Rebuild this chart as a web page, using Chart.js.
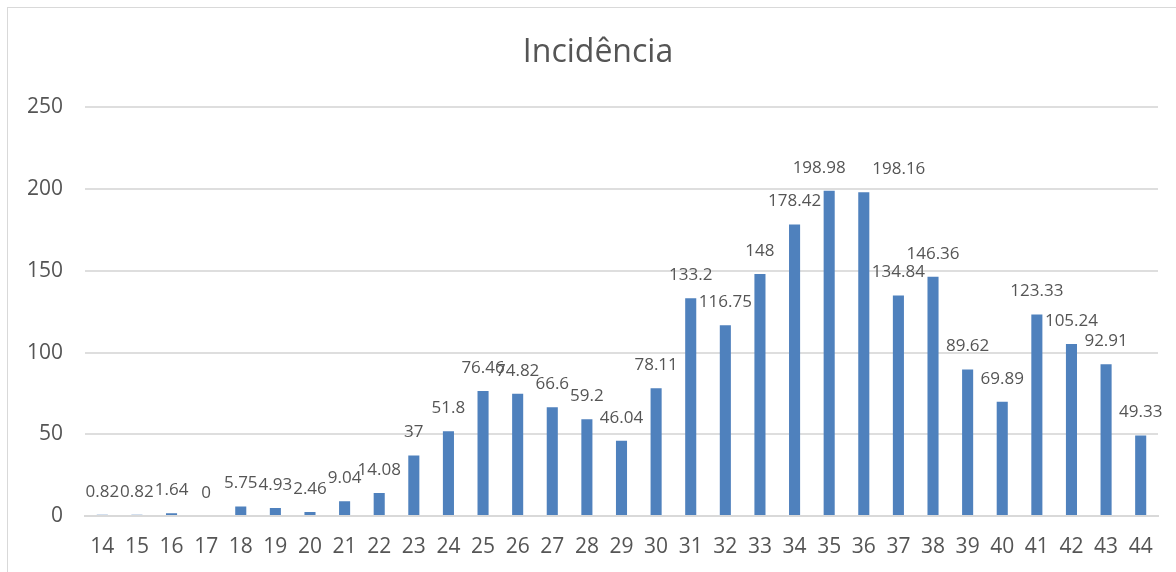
<!DOCTYPE html>
<html>
<head>
<meta charset="utf-8">
<script src="https://cdn.jsdelivr.net/npm/chart.js@4.4.1/dist/chart.umd.min.js"></script>
<style>
  html, body { margin: 0; padding: 0; background: #fff; overflow: hidden; }
  #frame {
    position: absolute; left: 7px; top: 7px;
    width: 1190px; height: 580px;
    border: 1px solid #d9d9d9; box-sizing: border-box;
  }
  #wrap { position: absolute; left: 1px; top: 1px; width: 1178px; height: 564px; }
</style>
</head>
<body>
<div id="frame"><div id="wrap"><canvas id="chart"></canvas></div></div>
<script>
const SEMANAS = ['14', '15', '16', '17', '18', '19', '20', '21', '22', '23', '24', '25', '26', '27', '28', '29', '30',
  '31', '32', '33', '34', '35', '36', '37', '38', '39', '40', '41', '42', '43', '44'];
const INCIDENCIA = [0.82, 0.82, 1.64, 0, 5.75, 4.93, 2.46, 9.04, 14.08, 37, 51.8, 76.46, 74.82, 66.6, 59.2, 46.04, 78.11,
  133.2, 116.75, 148, 178.42, 198.98, 198.16, 134.84, 146.36, 89.62, 69.89, 123.33, 105.24, 92.91, 49.33];

const TEXT = '#555555';
const FONT = "'Open Sans', 'Liberation Sans', sans-serif";

// rótulos de dados acima das barras (os dois picos afastados como no Excel)
const AFASTAR = { '35': -10, '36': 35 };
const rotulos = {
  id: 'rotulos',
  afterDatasetsDraw(chart) {
    const ctx = chart.ctx;
    const meta = chart.getDatasetMeta(0);
    ctx.save();
    ctx.font = '17px ' + FONT;
    ctx.fillStyle = TEXT;
    ctx.textAlign = 'center';
    ctx.textBaseline = 'middle';
    meta.data.forEach((bar, i) => {
      const dx = AFASTAR[SEMANAS[i]] || 0;
      ctx.fillText(String(INCIDENCIA[i]), bar.x + dx, bar.y - 23);
    });
    ctx.restore();
  }
};

new Chart(document.getElementById('chart'), {
  type: 'bar',
  data: {
    labels: SEMANAS,
    datasets: [{
      label: 'Incidência',
      data: INCIDENCIA,
      backgroundColor: '#4f81bd',
      borderWidth: 0,
      barPercentage: 0.32,
      categoryPercentage: 1
    }]
  },
  options: {
    responsive: true,
    maintainAspectRatio: false,
    animation: false,
    layout: { padding: 0 },
    plugins: {
      legend: { display: false },
      tooltip: { enabled: false },
      title: {
        display: true,
        text: 'Incidência',
        color: TEXT,
        font: { family: FONT, size: 32, weight: 'normal' },
        padding: { top: 25, bottom: 35 }
      }
    },
    scales: {
      x: {
        grid: { display: false },
        border: { color: '#d9d9d9', width: 2 },
        ticks: { color: TEXT, font: { family: FONT, size: 21 }, padding: 10, maxRotation: 0, autoSkip: false },
        afterFit(scale) { scale.height = 57; }
      },
      y: {
        min: 0,
        max: 250,
        grid: { color: '#dedede', lineWidth: 2, drawTicks: false },
        border: { display: false },
        ticks: { stepSize: 50, color: TEXT, font: { family: FONT, size: 21 }, padding: 22 },
        afterFit(scale) { scale.width = 76; }
      },
      // eixo vazio à direita: só reserva a margem
      margem: {
        type: 'linear',
        position: 'right',
        grid: { display: false, drawTicks: false },
        border: { display: false },
        ticks: { display: false },
        afterFit(scale) { scale.width = 29; }
      }
    }
  },
  plugins: [rotulos]
});
</script>
</body>
</html>
